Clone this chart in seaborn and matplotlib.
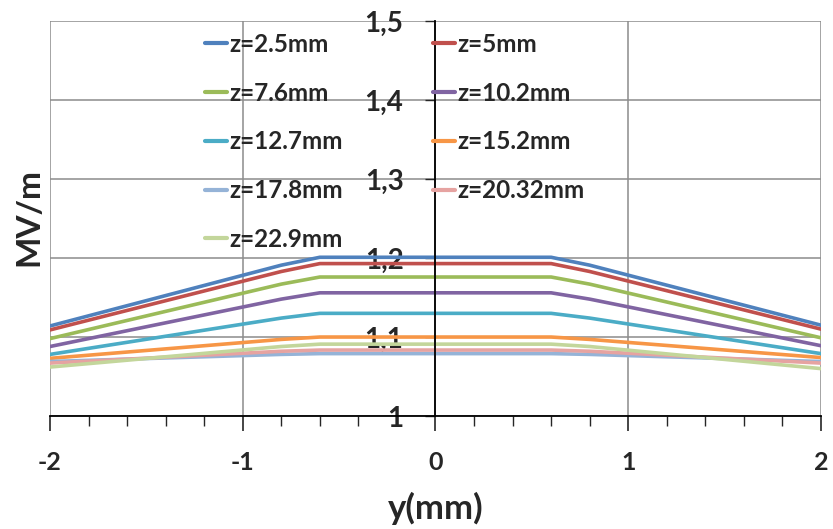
import numpy as np
import pandas as pd
import matplotlib
matplotlib.use('Agg')
import matplotlib.pyplot as plt
from matplotlib.ticker import MultipleLocator, FuncFormatter
from matplotlib.lines import Line2D
import seaborn as sns

# Data
y_pos = [-2, -0.8, -0.6, 0.6, 0.8, 2]
labels = ['z=2.5mm', 'z=5mm', 'z=7.6mm', 'z=10.2mm', 'z=12.7mm',
          'z=15.2mm', 'z=17.8mm', 'z=20.32mm', 'z=22.9mm']
z_2_5 = [1.114, 1.191, 1.201, 1.201, 1.191, 1.115]
z_5 = [1.109, 1.183, 1.193, 1.193, 1.183, 1.110]
z_7_6 = [1.098, 1.167, 1.176, 1.176, 1.167, 1.099]
z_10_2 = [1.088, 1.148, 1.156, 1.156, 1.148, 1.089]
z_12_7 = [1.078, 1.124, 1.130, 1.130, 1.124, 1.079]
z_15_2 = [1.073, 1.097, 1.100, 1.100, 1.097, 1.074]
z_17_8 = [1.069, 1.078, 1.079, 1.079, 1.078, 1.069]
z_20_32 = [1.067, 1.082, 1.0835, 1.0835, 1.082, 1.067]
z_22_9 = [1.062, 1.088, 1.091, 1.091, 1.088, 1.060]
series = [z_2_5, z_5, z_7_6, z_10_2, z_12_7, z_15_2, z_17_8, z_20_32, z_22_9]
colors = ['#4F81BD', '#C0504D', '#9BBB59', '#8064A2', '#4BACC6',
          '#F79646', '#95B3D7', '#E6A3A1', '#C3D69B']

df = pd.DataFrame({
    'y': np.tile(y_pos, len(labels)),
    'MV/m': np.concatenate(series),
    'z': np.repeat(labels, len(y_pos)),
})

sns.set_style('white')
plt.rcParams['font.family'] = ['Lato', 'DejaVu Sans']
plt.rcParams['font.weight'] = 'bold'
plt.rcParams['axes.unicode_minus'] = False

fig = plt.figure(figsize=(8.33, 5.29), dpi=100)
ax = fig.add_axes([0.060, 0.2136, 0.9256, 0.7464])

sns.lineplot(data=df, x='y', y='MV/m', hue='z', hue_order=labels,
             palette=colors, linewidth=2.6, legend=False, ax=ax)

ax.set_xlim(-2, 2)
ax.set_ylim(1, 1.5)
ax.xaxis.set_major_locator(MultipleLocator(1))
ax.xaxis.set_minor_locator(MultipleLocator(0.2))
ax.yaxis.set_major_locator(MultipleLocator(0.1))
ax.yaxis.set_major_formatter(FuncFormatter(lambda v, p: ('%g' % round(v, 2)).replace('.', ',')))

ax.grid(True, which='major', color='#8c8c8c', linewidth=1.1)
for s in ['top', 'right']:
    ax.spines[s].set_visible(False)
ax.spines['left'].set_position(('data', 0))
ax.spines['left'].set_color('black')
ax.spines['left'].set_linewidth(1.3)
ax.spines['bottom'].set_color('black')
ax.spines['bottom'].set_linewidth(1.3)
ax.set_axisbelow(True)

ax.tick_params(axis='x', which='major', direction='out', length=11, width=1.2,
               labelsize=18, pad=14, bottom=True)
ax.tick_params(axis='x', which='minor', direction='out', length=7, width=1.0, bottom=True)
ax.tick_params(axis='y', which='major', direction='out', length=7, width=1.0,
               labelsize=20, pad=16, left=True)

ax.set_xlabel('y(mm)', fontsize=25, fontweight='bold', labelpad=13)
ax.set_ylabel('')
fig.text(0.035, 0.59, 'MV/m', rotation=90, fontsize=24, fontweight='bold',
         ha='center', va='center')

# legend, filled row by row
handles = [Line2D([], [], color=c, linewidth=3) for c in colors]
order = [0, 2, 4, 6, 8, 1, 3, 5, 7]
ax.legend([handles[i] for i in order], [labels[i] for i in order], ncol=2,
          frameon=False, fontsize=17.5, handlelength=0.9, handletextpad=0.1,
          columnspacing=3.7, labelspacing=1.06, borderaxespad=0,
          loc='upper left', bbox_to_anchor=(0.189, 0.995))

fig.savefig('out.png', dpi=100)
